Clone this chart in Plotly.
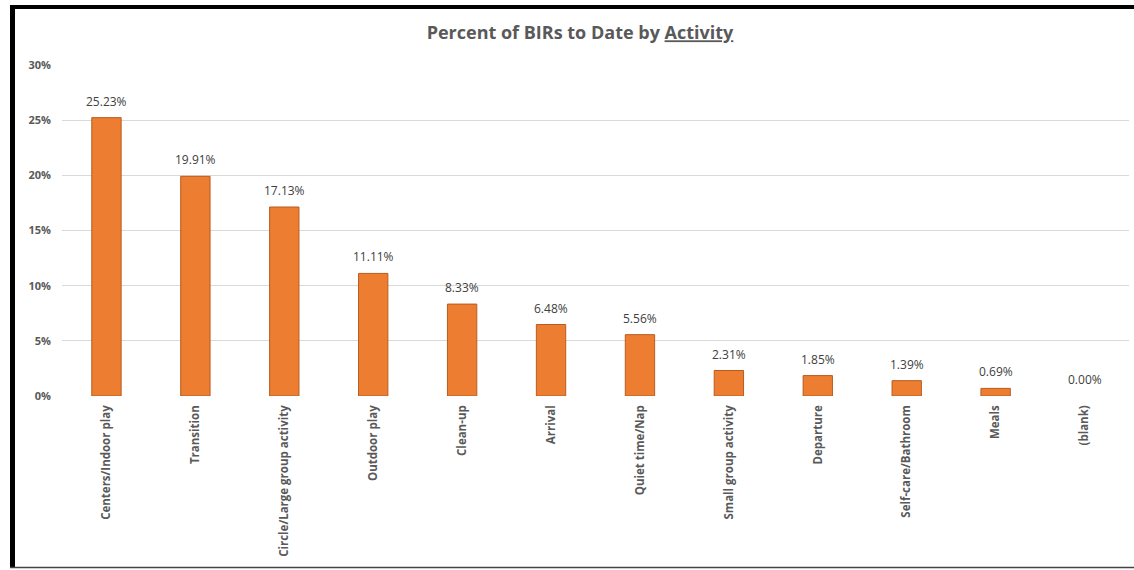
import plotly.graph_objects as go

categories = ["Centers/Indoor play", "Transition", "Circle/Large group activity", "Outdoor play",
              "Clean-up", "Arrival", "Quiet time/Nap", "Small group activity", "Departure",
              "Self-care/Bathroom", "Meals", "(blank)"]
values = [25.23, 19.91, 17.13, 11.11, 8.33, 6.48, 5.56, 2.31, 1.85, 1.39, 0.69, 0.00]
tick_vals = [0, 5, 10, 15, 20, 25, 30]
tick_text = ["0%", "5%", "10%", "15%", "20%", "25%", "30%"]

W, H = 1134, 570
L, R, T, B = 62, 5, 65, 174
pw, ph = W - L - R, H - T - B

def px(x):
    return (x - L) / pw

def py(y):
    return (H - B - y) / ph

fig = go.Figure(go.Bar(
    x=categories, y=values,
    marker=dict(color="#ED7D31",
                line=dict(color="#B85C1E", width=[1 if v > 0 else 0 for v in values])),
    cliponaxis=False, width=0.33, hoverinfo="x+y",
))

for c, v in zip(categories, values):
    fig.add_annotation(x=c, y=v, text=f"{v:.2f}%", showarrow=False,
                       xanchor="center", yanchor="bottom", yshift=6,
                       font=dict(family="Open Sans", size=12, color="#404040"))

fig.update_layout(
    width=W, height=H, margin=dict(l=L, r=R, t=T, b=B),
    paper_bgcolor="white", plot_bgcolor="white", showlegend=False,
    title=dict(text="<b>Percent of BIRs to Date by <u>Activity</u></b>",
               x=580 / W, xanchor="center", y=1 - 33 / H, yanchor="middle",
               font=dict(family="Open Sans", size=18, color="#595959")),
    yaxis=dict(range=[0, 30], tickvals=tick_vals, ticktext=tick_text,
               showgrid=True, gridcolor="#D9D9D9", gridwidth=1, zeroline=False,
               showline=False, ticks="", ticklabelstandoff=10,
               tickfont=dict(family="Open Sans", size=11, color="#595959", weight="bold")),
    xaxis=dict(tickangle=-90, showline=False, ticks="", ticklabelstandoff=6,
               tickfont=dict(family="Open Sans", size=11.5, color="#595959", weight="bold")),
)

shapes = [
    dict(type="rect", xref="paper", yref="paper", x0=px(10), x1=px(15), y0=py(5), y1=py(568),
         fillcolor="black", line=dict(width=0), layer="above"),
    dict(type="rect", xref="paper", yref="paper", x0=px(10), x1=px(1134), y0=py(5), y1=py(9),
         fillcolor="black", line=dict(width=0), layer="above"),
    dict(type="line", xref="paper", yref="paper", x0=px(10), x1=px(1134), y0=py(567.5), y1=py(567.5),
         line=dict(color="#444444", width=1.5), layer="above"),
]
fig.update_layout(shapes=shapes)

fig.write_html("out.html")
